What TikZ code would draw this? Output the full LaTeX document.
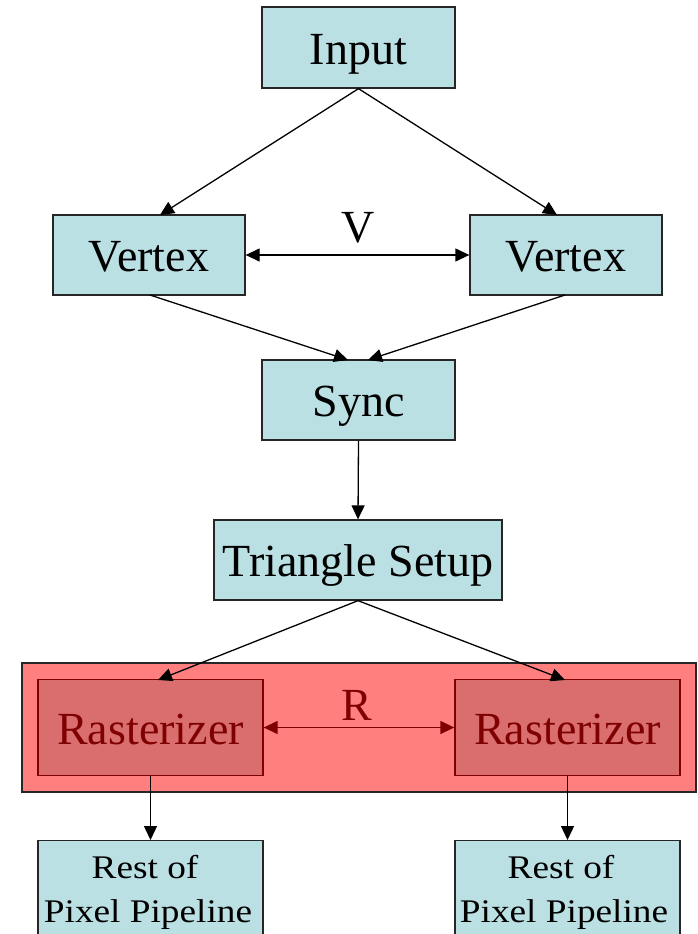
\documentclass[tikz,border=0pt]{standalone}
\usepackage{fontspec}
\setmainfont{Liberation Serif}
\usetikzlibrary{arrows.meta}
\definecolor{boxfill}{HTML}{BBE0E3}
\definecolor{groupfill}{HTML}{FF7F7F}
\definecolor{rastfill}{HTML}{DA6E6E}
\definecolor{darkred}{HTML}{7F0000}
\newcommand{\widetext}[1]{\scalebox{1.13}[1]{#1}}
\tikzset{
  bigfont/.style={font=\fontsize{46}{50}\selectfont},
  pbox/.style={draw=black!85, fill=boxfill, line width=1.3pt, inner sep=0pt,
    bigfont, text=black, text height=38pt, text depth=5pt},
  rbox/.style={draw=darkred, fill=rastfill, line width=1.3pt, inner sep=0pt,
    bigfont, text=darkred, text height=38pt, text depth=5pt},
  restbox/.style={draw=black!85, fill=boxfill, line width=1.3pt, inner sep=0pt},
  resttext/.style={font=\fontsize{33}{36}\selectfont, inner sep=0pt, anchor=base},
  flow/.style={line width=1.3pt, -{Triangle[length=14pt,width=13pt]}},
  twoway/.style={line width=1.3pt, {Triangle[length=14pt,width=13pt]}-{Triangle[length=14pt,width=13pt]}},
  lbl/.style={bigfont, inner sep=0pt, anchor=base}
}
\begin{document}
\begin{tikzpicture}[x=1pt,y=-1pt]
\useasboundingbox (0,0) rectangle (698,934);
\clip (0,0) rectangle (698,934);

% stage boxes
\node[pbox, minimum width=193pt, minimum height=81pt] (input) at (358.5,47.5) {Input};
\node[pbox, minimum width=192pt, minimum height=80pt] (vtxl) at (149,255) {Vertex};
\node[pbox, minimum width=192pt, minimum height=80pt] (vtxr) at (566,255) {Vertex};
\node[pbox, minimum width=193pt, minimum height=80pt] (sync) at (358.5,400) {Sync};
\node[pbox, minimum width=288pt, minimum height=80pt] (setup) at (358,560) {Triangle Setup};

% rasterizer group
\node[draw=black!85, fill=groupfill, line width=1.3pt, minimum width=674pt, minimum height=129pt, inner sep=0pt] (group) at (359,727.5) {};
\node[rbox, minimum width=225pt, minimum height=96pt] (rastl) at (150.5,727.5) {Rasterizer};
\node[rbox, minimum width=225pt, minimum height=96pt] (rastr) at (567.5,727.5) {Rasterizer};

% remaining pixel pipeline (runs off the bottom edge)
\node[restbox, minimum width=225pt, minimum height=112pt, anchor=north] (restl) at (150.5,840) {};
\node[restbox, minimum width=225pt, minimum height=112pt, anchor=north] (restr) at (567.5,840) {};
\node[resttext] (restla) at (145,878) {\widetext{Rest of}};
\node[resttext] (restlb) at (148,922) {\widetext{Pixel Pipeline}};
\node[resttext] (restra) at (561,878) {\widetext{Rest of}};
\node[resttext] (restrb) at (564,922) {\widetext{Pixel Pipeline}};

% connectors
\coordinate (vtxlin) at (160,215);
\coordinate (vtxrin) at (557,215);
\draw[flow] (input.south) -- (vtxlin);
\draw[flow] (input.south) -- (vtxrin);
\coordinate (vtxlout) at (150,295);
\coordinate (vtxrout) at (565,295);
\coordinate (syncinl) at (348,360);
\coordinate (syncinr) at (368,360);
\draw[flow] (vtxlout) -- (syncinl);
\draw[flow] (vtxrout) -- (syncinr);
\draw[twoway] (vtxl.east) -- (vtxr.west);
\node[lbl] (vlabel) at (358,242) {V};

\draw[flow] (sync.south) -- (setup.north);

\coordinate (rastlin) at (158,680);
\coordinate (rastrin) at (565,680);
\draw[flow] (setup.south) -- (rastlin);
\draw[flow] (setup.south) -- (rastrin);
\draw[twoway, draw=darkred, color=darkred] (rastl.east) -- (rastr.west);
\node[lbl, text=darkred] (rlabel) at (357,720) {R};

\draw[flow] (rastl.south) -- (restl.north);
\draw[flow] (rastr.south) -- (restr.north);
\end{tikzpicture}
\end{document}
